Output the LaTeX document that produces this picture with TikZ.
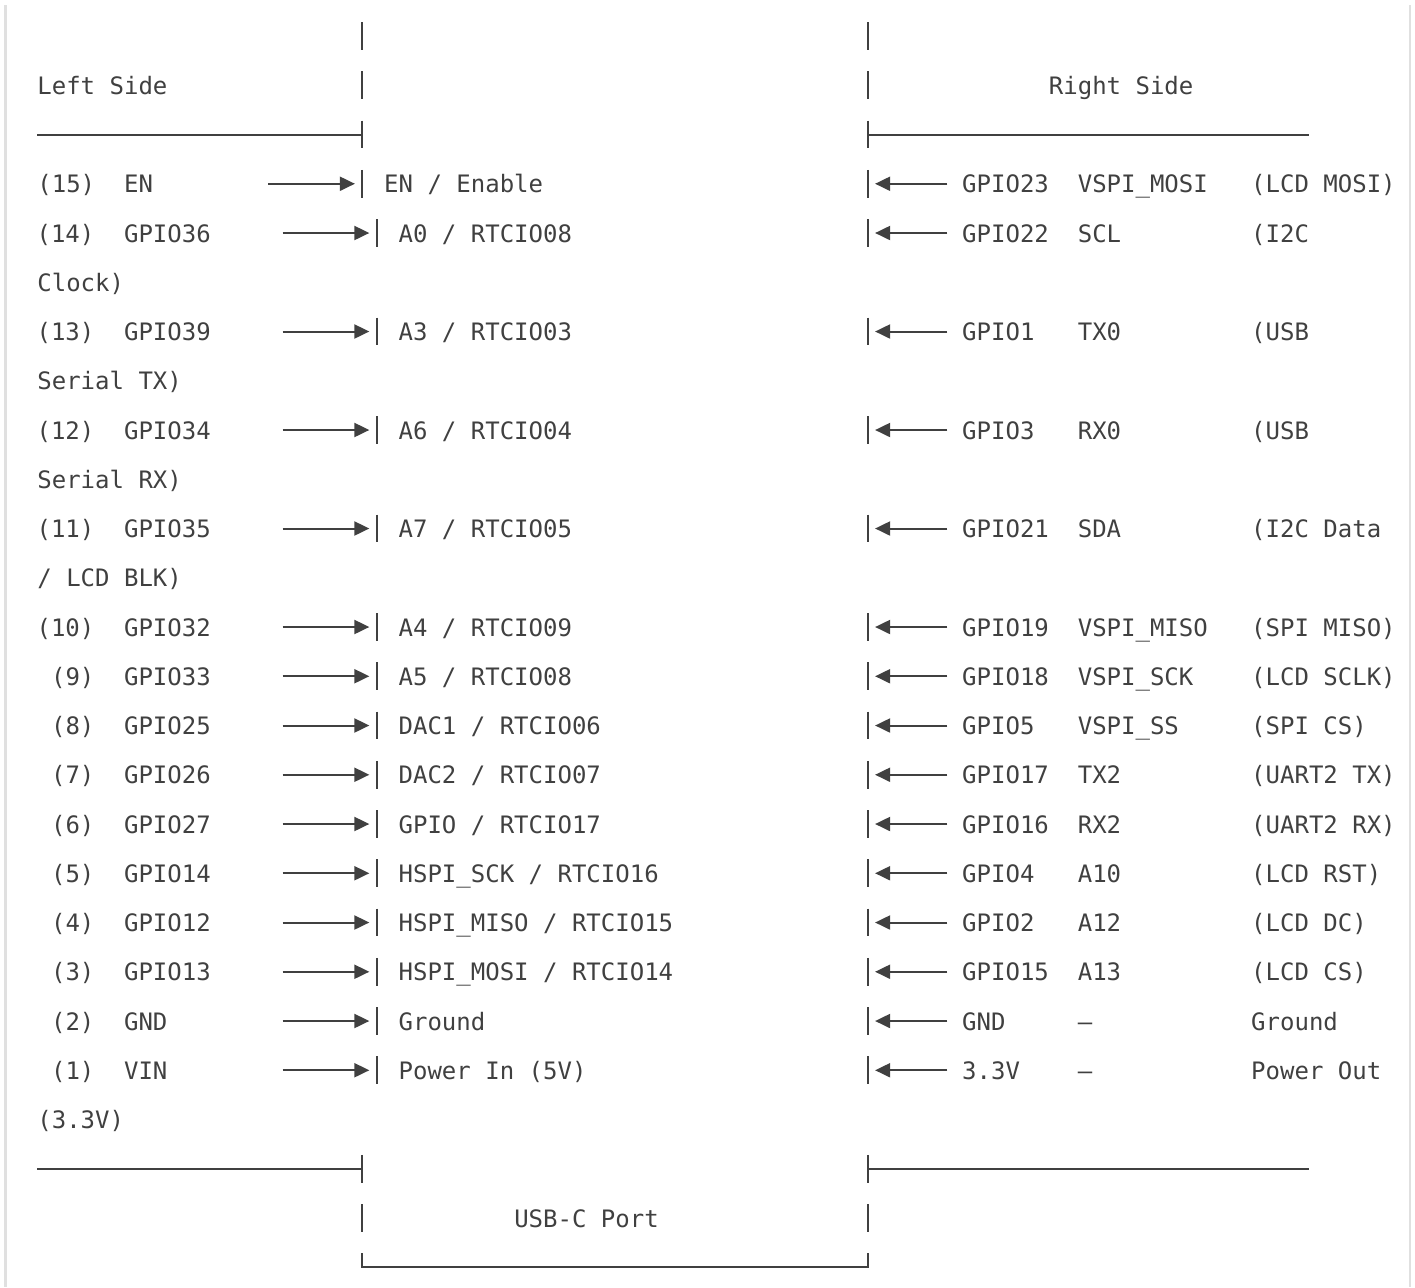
\documentclass[tikz,border=0pt]{standalone}
\usepackage{fontspec}
\setmonofont{DejaVu Sans Mono}
\usetikzlibrary{arrows.meta}
\definecolor{ink}{HTML}{404040}
\definecolor{frame}{HTML}{E0E0E0}

\begin{document}
\begin{tikzpicture}[x=7.225pt,y=-24.625pt,font=\ttfamily\fontsize{12}{14}\selectfont]
  \tikzstyle{mono}=[anchor=base west, inner sep=0pt, yshift=-4.6pt, text=ink]
  \tikzstyle{wire}=[draw=ink, line width=1pt]
  \tikzstyle{pinarrow}=[wire, -{Triangle[length=7.5pt,width=7pt]}]
  \tikzstyle{frameline}=[draw=frame, line width=1.4pt]

  \useasboundingbox (-18.5pt,18pt) rectangle (689pt,-625.5pt);
  \draw[frameline] (-15.75pt,15.5pt) -- (-15.75pt,-625.5pt);
  \draw[frameline] (686.5pt,15.5pt) -- (686.5pt,-625.5pt);

  % headings
  \node[mono] at (0,1)   (lefthead)  {Left Side};
  \node[mono] at (70,1)  (righthead) {Right Side};
  \node[mono] at (33,24) (usb)       {USB-C Port};

  % board outline
  \foreach \row in {0,1,2,3,23,24} \draw[wire] (22.5,\row-0.28) -- (22.5,\row+0.28);
  \foreach \row in {4,6,8,10,12,13,14,15,16,17,18,19,20,21} \draw[wire] (23.5,\row-0.28) -- (23.5,\row+0.28);
  \foreach \row in {0,1,2,3,4,6,8,10,12,13,14,15,16,17,18,19,20,21,23,24} \draw[wire] (57.5,\row-0.28) -- (57.5,\row+0.28);
  \draw[wire] (0,2) -- (22.5,2);
  \draw[wire] (57.5,2) -- (88,2);
  \draw[wire] (0,23) -- (22.5,23);
  \draw[wire] (57.5,23) -- (88,23);
  \draw[wire] (22.5,24.72) -- (22.5,25) -- (57.5,25) -- (57.5,24.72);

  % left header pins
  \node[mono] at (0,3)  (lnum15)  {(15)};
  \node[mono] at (6,3)  (lgpio15) {EN};
  \node[mono] at (24,3) (lfunc15) {EN / Enable};
  \coordinate (lsrc15) at (16,3);
  \coordinate (ltip15) at (22,3);
  \draw[pinarrow] (lsrc15) -- (ltip15);

  \foreach \row/\n/\g/\f in {4/14/GPIO36/{A0 / RTCIO08}, 6/13/GPIO39/{A3 / RTCIO03},
      8/12/GPIO34/{A6 / RTCIO04}, 10/11/GPIO35/{A7 / RTCIO05}, 12/10/GPIO32/{A4 / RTCIO09},
      13/9/GPIO33/{A5 / RTCIO08}, 14/8/GPIO25/{DAC1 / RTCIO06}, 15/7/GPIO26/{DAC2 / RTCIO07},
      16/6/GPIO27/{GPIO / RTCIO17}, 17/5/GPIO14/{HSPI\_SCK / RTCIO16},
      18/4/GPIO12/{HSPI\_MISO / RTCIO15}, 19/3/GPIO13/{HSPI\_MOSI / RTCIO14},
      20/2/GND/{Ground}, 21/1/VIN/{Power In (5V)}} {
    \node[mono,anchor=base east] at (4,\row) (lnum\n)  {(\n)};
    \node[mono]                  at (6,\row) (lgpio\n) {\g};
    \node[mono]                  at (25,\row) (lfunc\n) {\f};
    \coordinate (lsrc\n) at (17,\row);
    \coordinate (ltip\n) at (23,\row);
    \draw[pinarrow] (lsrc\n) -- (ltip\n);
  }

  % wrapped notes
  \node[mono] at (0,5)  (wrap5)  {Clock)};
  \node[mono] at (0,7)  (wrap7)  {Serial TX)};
  \node[mono] at (0,9)  (wrap9)  {Serial RX)};
  \node[mono] at (0,11) (wrap11) {/ LCD BLK)};
  \node[mono] at (0,22) (wrap22) {(3.3V)};

  % right header pins
  \foreach \row/\g/\sg/\nt in {3/GPIO23/VSPI\_MOSI/{(LCD MOSI)}, 4/GPIO22/SCL/{(I2C},
      6/GPIO1/TX0/{(USB}, 8/GPIO3/RX0/{(USB}, 10/GPIO21/SDA/{(I2C Data},
      12/GPIO19/VSPI\_MISO/{(SPI MISO)}, 13/GPIO18/VSPI\_SCK/{(LCD SCLK)},
      14/GPIO5/VSPI\_SS/{(SPI CS)}, 15/GPIO17/TX2/{(UART2 TX)}, 16/GPIO16/RX2/{(UART2 RX)},
      17/GPIO4/A10/{(LCD RST)}, 18/GPIO2/A12/{(LCD DC)}, 19/GPIO15/A13/{(LCD CS)},
      20/GND/–/{Ground}, 21/3.3V/–/{Power Out}} {
    \node[mono] at (64,\row) (rgpio\row) {\g};
    \node[mono] at (72,\row) (rsig\row)  {\sg};
    \node[mono] at (84,\row) (rnote\row) {\nt};
    \coordinate (rsrc\row) at (63,\row);
    \coordinate (rtip\row) at (58,\row);
    \draw[pinarrow] (rsrc\row) -- (rtip\row);
  }
\end{tikzpicture}
\end{document}
